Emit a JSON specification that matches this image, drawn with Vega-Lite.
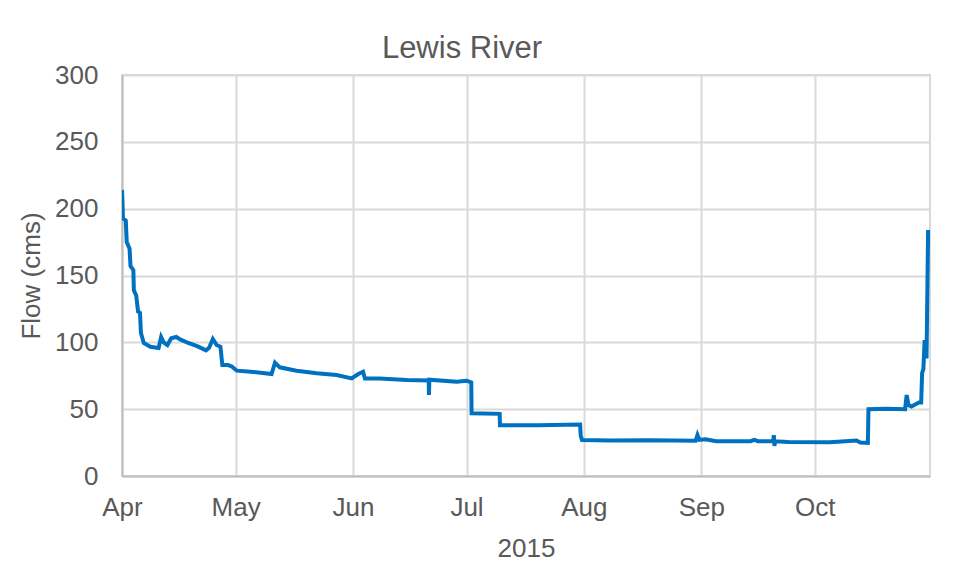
{
  "$schema": "https://vega.github.io/schema/vega-lite/v6.json",
  "width": 808,
  "height": 401,
  "autosize": {"type": "none"},
  "padding": {"left": 122, "top": 75, "right": 29, "bottom": 104},
  "background": "white",
  "title": {
    "text": "Lewis River",
    "anchor": "middle",
    "dx": -64,
    "offset": -3,
    "font": "Liberation Sans",
    "fontSize": 31,
    "fontWeight": "normal",
    "color": "#595959"
  },
  "data": {
    "values": [
      {"date": "2015-04-01T00:00", "flow": 214},
      {"date": "2015-04-01T03:00", "flow": 205},
      {"date": "2015-04-01T06:00", "flow": 193},
      {"date": "2015-04-02T00:00", "flow": 191},
      {"date": "2015-04-02T06:00", "flow": 175},
      {"date": "2015-04-03T00:00", "flow": 170},
      {"date": "2015-04-03T06:00", "flow": 157},
      {"date": "2015-04-04T00:00", "flow": 154},
      {"date": "2015-04-04T03:00", "flow": 139},
      {"date": "2015-04-04T18:00", "flow": 135},
      {"date": "2015-04-05T06:00", "flow": 123},
      {"date": "2015-04-05T18:00", "flow": 122},
      {"date": "2015-04-06T00:00", "flow": 107},
      {"date": "2015-04-06T18:00", "flow": 99.5},
      {"date": "2015-04-08T12:00", "flow": 96.7},
      {"date": "2015-04-10T16:00", "flow": 95.7},
      {"date": "2015-04-11T08:00", "flow": 104},
      {"date": "2015-04-12T00:00", "flow": 100},
      {"date": "2015-04-13T00:00", "flow": 98},
      {"date": "2015-04-14T00:00", "flow": 103},
      {"date": "2015-04-15T08:00", "flow": 104},
      {"date": "2015-04-16T12:00", "flow": 102},
      {"date": "2015-04-18T08:00", "flow": 99.7},
      {"date": "2015-04-21T00:00", "flow": 97},
      {"date": "2015-04-23T04:00", "flow": 94},
      {"date": "2015-04-24T00:00", "flow": 96},
      {"date": "2015-04-25T00:00", "flow": 102.5},
      {"date": "2015-04-26T00:00", "flow": 98},
      {"date": "2015-04-27T00:00", "flow": 96.7},
      {"date": "2015-04-27T12:00", "flow": 83},
      {"date": "2015-04-29T00:00", "flow": 83},
      {"date": "2015-04-30T00:00", "flow": 82},
      {"date": "2015-05-01T08:00", "flow": 78.8},
      {"date": "2015-05-05T00:00", "flow": 78},
      {"date": "2015-05-10T12:00", "flow": 76.3},
      {"date": "2015-05-11T10:00", "flow": 84.8},
      {"date": "2015-05-12T16:00", "flow": 81.3},
      {"date": "2015-05-17T02:00", "flow": 78.8},
      {"date": "2015-05-22T10:00", "flow": 76.8},
      {"date": "2015-05-27T16:00", "flow": 75.5},
      {"date": "2015-05-31T16:00", "flow": 73},
      {"date": "2015-06-02T10:00", "flow": 76.3},
      {"date": "2015-06-03T16:00", "flow": 78},
      {"date": "2015-06-04T04:00", "flow": 73},
      {"date": "2015-06-08T00:00", "flow": 73},
      {"date": "2015-06-15T04:00", "flow": 71.8},
      {"date": "2015-06-21T00:00", "flow": 71.5},
      {"date": "2015-06-21T02:00", "flow": 60.6},
      {"date": "2015-06-21T04:00", "flow": 72},
      {"date": "2015-06-28T10:00", "flow": 70.5},
      {"date": "2015-07-01T00:00", "flow": 71.3},
      {"date": "2015-07-02T06:00", "flow": 70},
      {"date": "2015-07-02T08:00", "flow": 47},
      {"date": "2015-07-09T18:00", "flow": 46.5},
      {"date": "2015-07-09T20:00", "flow": 38},
      {"date": "2015-07-20T00:00", "flow": 38},
      {"date": "2015-07-31T00:00", "flow": 38.5},
      {"date": "2015-07-31T04:00", "flow": 30},
      {"date": "2015-07-31T12:00", "flow": 27},
      {"date": "2015-08-08T00:00", "flow": 26.5},
      {"date": "2015-08-18T00:00", "flow": 26.8},
      {"date": "2015-08-30T12:00", "flow": 26.3},
      {"date": "2015-08-31T00:00", "flow": 30.7},
      {"date": "2015-08-31T12:00", "flow": 27},
      {"date": "2015-09-02T00:00", "flow": 27.5},
      {"date": "2015-09-05T00:00", "flow": 26},
      {"date": "2015-09-14T00:00", "flow": 26},
      {"date": "2015-09-15T00:00", "flow": 27},
      {"date": "2015-09-16T00:00", "flow": 26},
      {"date": "2015-09-20T00:00", "flow": 26},
      {"date": "2015-09-20T04:00", "flow": 30.5},
      {"date": "2015-09-20T08:00", "flow": 22.5},
      {"date": "2015-09-20T12:00", "flow": 26},
      {"date": "2015-09-24T00:00", "flow": 25.5},
      {"date": "2015-10-05T00:00", "flow": 25.3},
      {"date": "2015-10-12T00:00", "flow": 26.5},
      {"date": "2015-10-13T00:00", "flow": 25},
      {"date": "2015-10-15T00:00", "flow": 24.8},
      {"date": "2015-10-15T04:00", "flow": 50},
      {"date": "2015-10-20T00:00", "flow": 50.3},
      {"date": "2015-10-24T20:00", "flow": 50},
      {"date": "2015-10-25T06:00", "flow": 60.6},
      {"date": "2015-10-25T18:00", "flow": 53},
      {"date": "2015-10-26T12:00", "flow": 52},
      {"date": "2015-10-28T12:00", "flow": 55},
      {"date": "2015-10-29T02:00", "flow": 55},
      {"date": "2015-10-29T08:00", "flow": 77},
      {"date": "2015-10-29T16:00", "flow": 80},
      {"date": "2015-10-30T00:00", "flow": 101.7},
      {"date": "2015-10-30T12:00", "flow": 88},
      {"date": "2015-10-30T22:00", "flow": 184}
    ]
  },
  "mark": {"type": "line", "color": "#0070C0", "strokeWidth": 4, "clip": true},
  "encoding": {
    "x": {
      "field": "date",
      "type": "temporal",
      "title": "2015",
      "scale": {"domain": ["2015-04-01T00:00", "2015-10-31T10:00"]},
      "axis": {
        "format": "%b",
        "tickCount": {"interval": "month", "step": 1},
        "labelPadding": 18,
        "titlePadding": 15
      }
    },
    "y": {
      "field": "flow",
      "type": "quantitative",
      "title": "Flow (cms)",
      "scale": {"domain": [0, 300]},
      "axis": {
        "values": [0, 50, 100, 150, 200, 250, 300],
        "labelPadding": 24,
        "titlePadding": 10
      }
    }
  },
  "config": {
    "view": {"stroke": "#d9d9d9", "strokeWidth": 2},
    "axis": {
      "labelFont": "Liberation Sans",
      "labelFontSize": 26,
      "labelColor": "#595959",
      "titleFont": "Liberation Sans",
      "titleFontSize": 26,
      "titleFontWeight": "normal",
      "titleColor": "#595959",
      "gridColor": "#d9d9d9",
      "gridWidth": 2,
      "domainColor": "#bfbfbf",
      "domainWidth": 2,
      "ticks": false,
      "tickSize": 0,
      "labelFlush": false,
      "labelOverlap": false
    }
  }
}
